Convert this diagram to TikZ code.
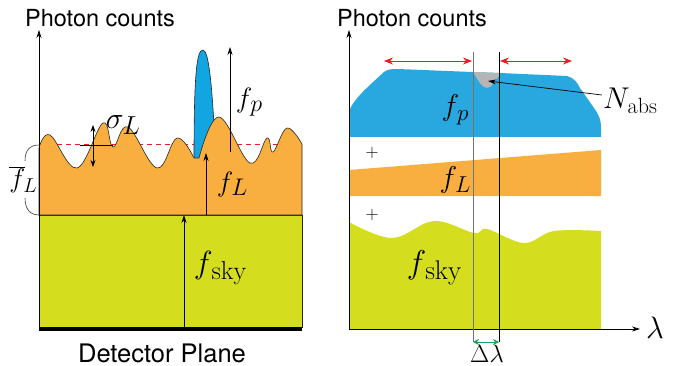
\RequirePackage{fix-cm}
\documentclass[tikz,border=0pt]{standalone}
\usepackage{fontspec}
\newfontfamily\heros{TeX Gyre Heros}
\usetikzlibrary{arrows.meta}
\definecolor{orng}{HTML}{F9AE40}
\definecolor{grn}{HTML}{D4DE1F}
\definecolor{blueL}{HTML}{11A5E2}
\definecolor{blueR}{HTML}{29A8E0}
\definecolor{notch}{HTML}{B5B5B5}
\definecolor{redA}{HTML}{EC1C24}
\definecolor{grnA}{HTML}{12A650}
% #1 main size, #2 sub size, #3 main symbol, #4 subscript, #5 kern
\newcommand\mlb[5]{{\fontsize{#1}{#1}\selectfont$#3$\kern#5\raisebox{-0.17em}{\fontsize{#2}{#2}\selectfont #4}}}
\tikzset{
  outl/.style={draw=black!85, line width=0.6pt},
  axis/.style={draw=black, line width=0.7pt, -{Stealth[length=8pt,width=5pt]}},
  uparr/.style={draw=black, line width=0.6pt, -{Stealth[length=8pt,width=5pt]}},
  dblarr/.style={draw=black, line width=0.7pt, {Stealth[length=7pt,width=5pt]}-{Stealth[length=7pt,width=5pt]}},
  redarr/.style={draw=redA, line width=0.7pt, {Stealth[length=9pt,width=7pt]}-{Stealth[length=9pt,width=7pt]}},
  grnarr/.style={draw=grnA, line width=1pt, {Stealth[length=6pt,width=6pt]}-{Stealth[length=6pt,width=6pt]}},
  title/.style={font=\heros\fontsize{23.5}{27}\selectfont, inner sep=0pt, anchor=base},
  mlab/.style={inner sep=0pt},
  plus/.style={font=\fontsize{18}{20}\selectfont, inner sep=0pt}
}
\begin{document}
\begin{tikzpicture}[x=1pt,y=-1pt]
\useasboundingbox (0,0) rectangle (674,366);
% ---------------- left panel ----------------
\fill[grn] (39,215) rectangle (302,327);
\draw[outl] (39,215) rectangle (302,327);
\draw[redA, line width=0.7pt, dash pattern=on 5pt off 4pt] (39,144) -- (302,144);
\fill[blueL] (194,158) .. controls (194,70) and (197,50) .. (203,50) .. controls (209,50) and (212,90) .. (214,125) -- (199,158) -- cycle;
\draw[outl] (194,158) .. controls (194,70) and (197,50) .. (203,50) .. controls (209,50) and (212,90) .. (214,125);
\path[fill=orng, outl] (39,215) -- (39,148)
  -- plot[smooth, tension=0.65] coordinates {(39,148) (50,135) (77,168) (103,123) (113,147) (128,127) (157,168) (177,138) (194,158)}
  -- (199,158)
  -- plot[smooth, tension=0.65] coordinates {(199,158) (219,117) (250,163) (267,138) (273,152) (287,128) (302,144)}
  -- (302,215) -- cycle;
\draw[black, line width=4pt] (39,329) -- (302,329);
% axis
\coordinate (ly0) at (39,327);
\coordinate (ly1) at (39,30);
\draw[axis] (ly0) -- (ly1);
\node[title] (tl) at (100,27) {Photon counts};
\node[title, font=\heros\fontsize{25.5}{29}\selectfont] (det) at (162,362) {Detector Plane};
% sigma
\coordinate (s0) at (93,167);
\coordinate (s1) at (93,125);
\draw[dblarr] (s0) -- (s1);
\draw[black, line width=0.7pt] (80,145) -- (113,145);
\node[mlab] (sig) at (123,125) {\mlb{30}{26}{\sigma}{$L$}{-1pt}};
% f_p
\coordinate (p0) at (230,152);
\coordinate (p1) at (230,47);
\draw[uparr] (p0) -- (p1);
\node[mlab] (fp) at (249,102) {\mlb{28}{24}{f}{$p$}{-2pt}};
% f_L
\coordinate (l0) at (206,215);
\coordinate (l1) at (206,153);
\draw[uparr] (l0) -- (l1);
\node[mlab] (fl) at (232,184) {\mlb{28}{24}{f}{$L$}{-2pt}};
% f_sky
\coordinate (k0) at (184,327);
\coordinate (k1) at (184,215);
\draw[uparr] (k0) -- (k1);
\node[mlab] (fsky) at (220,268) {\mlb{32}{26}{f}{sky}{-1pt}};
% fbar_L bracket
\draw[black!80, line width=0.6pt] (39,145) .. controls (30,145) and (25,150) .. (25,161);
\draw[black!80, line width=0.6pt] (25,198) .. controls (25,209) and (30,215) .. (39,215);
\node[mlab] (fbar) at (23,180) {\mlb{27}{20}{\overline{f}}{$L$}{-2pt}};
% ---------------- right panel ----------------
\fill[blueR] (349,137) -- (349,112) .. controls (352,100) and (370,85) .. (384,72) .. controls (388,69) and (392,69) .. (398,69) -- (472,72) -- (500,73) -- (567,76) .. controls (574,78) and (577,82) .. (580,88) -- (594,108) .. controls (599,115) and (601,120) .. (601,127) -- (601,137) -- cycle;
\fill[notch] (473,72) .. controls (478,80) and (482,88) .. (487,88) .. controls (492,88) and (495,80) .. (499,76) -- (499,73) -- cycle;
\fill[orng] (349,170) -- (601,150) -- (601,196) -- (349,196) -- cycle;
\fill[grn] (349,329) -- (349,222)
  -- plot[smooth, tension=0.6] coordinates {(349,222) (392,238) (434,221) (474,233) (487,229) (524,243) (554,231) (601,231)}
  -- (601,329) -- cycle;
\coordinate (ry0) at (349,329);
\coordinate (ry1) at (349,30);
\coordinate (rx1) at (640,329);
\draw[axis] (ry0) -- (ry1);
\draw[axis] (ry0) -- (rx1);
\node[mlab, font=\fontsize{31}{34}\selectfont] (lam) at (655,328) {$\lambda$};
\node[title] (tr) at (412,27) {Photon counts};
% window lines
\coordinate (g0) at (473,52);
\coordinate (g1) at (473,342);
\coordinate (b0) at (499,52);
\coordinate (b1) at (499,342);
\draw[black!55, line width=0.8pt] (g0) -- (g1);
\draw[black, line width=0.7pt] (b0) -- (b1);
\draw[grnarr] (g1) -- (b1);
\node[mlab, font=\fontsize{25}{28}\selectfont, anchor=base] (dl) at (487,362) {$\Delta\lambda$};
% red arrows
\coordinate (ra0) at (384,61);
\coordinate (ra1) at (472,61);
\coordinate (rb0) at (500,61);
\coordinate (rb1) at (572,61);
\draw[redarr] (ra0) -- (ra1);
\draw[redarr] (rb0) -- (rb1);
% N_abs
\node[mlab] (nabs) at (630,101) {\mlb{30}{22}{N}{abs}{-2pt}};
\coordinate (n1) at (488,81);
\draw[uparr, line width=0.7pt] (nabs.west) ++(-1,-6) -- (n1);
% labels
\node[mlab] (fp2) at (455,110) {\mlb{30}{23}{f}{$p$}{-2pt}};
\node[mlab] (fl2) at (455,180) {\mlb{30}{23}{f}{$L$}{-2pt}};
\node[mlab] (fs2) at (434,268) {\mlb{33}{27}{f}{sky}{-1pt}};
\node[plus] (pl1) at (372,153) {$+$};
\node[plus] (pl2) at (372,215) {$+$};
\end{tikzpicture}
\end{document}
